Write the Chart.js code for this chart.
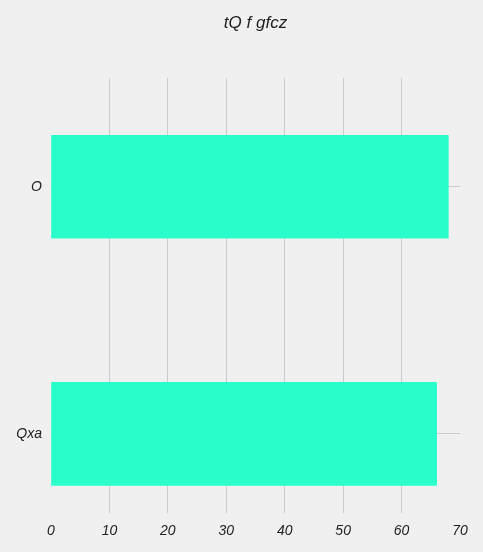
<!DOCTYPE html>
<html>
<head>
    <title>tQ f gfcz</title>
    <script src="https://cdn.jsdelivr.net/npm/chart.js"></script>
    <style>
        body { margin: 0; background: #f0f0f0; }
    </style>
</head>
<body>
    <canvas id="barChart" width="483" height="552"></canvas>

    <script>
        // Chart data
        const chartTitle = 'tQ f gfcz';
        const categories = ['O', 'Qxa'];
        const values = [68, 66];
        const xTicks = [0, 10, 20, 30, 40, 50, 60, 70];

        const gridColor = '#cbcbcb';
        const fontFamily = '"Liberation Sans", Arial, sans-serif';

        // title centred over the plot area rather than the canvas
        const areaTitle = {
            id: 'areaTitle',
            afterDraw(chart) {
                const c = chart.ctx;
                const a = chart.chartArea;
                c.save();
                c.font = 'italic 17px ' + fontFamily;
                c.fillStyle = '#222222';
                c.textAlign = 'center';
                c.textBaseline = 'middle';
                c.fillText(chartTitle, (a.left + a.right) / 2, 23);
                c.restore();
            }
        };

        const ctx = document.getElementById('barChart').getContext('2d');
        new Chart(ctx, {
            type: 'bar',
            data: {
                datasets: [{
                    data: values.map((v, i) => ({ x: v, y: i })),
                    backgroundColor: '#2affcc',
                    borderWidth: 0,
                    barThickness: 103
                }]
            },
            plugins: [areaTitle],
            options: {
                indexAxis: 'y',
                responsive: false,
                animation: false,
                layout: { padding: { top: 78, right: 23, left: 0, bottom: 0 } },
                plugins: {
                    legend: { display: false },
                    tooltip: { enabled: false },
                    title: { display: false }
                },
                scales: {
                    x: {
                        type: 'linear',
                        min: 0,
                        max: 70,
                        afterBuildTicks: (scale) => {
                            scale.ticks = xTicks.map(v => ({ value: v }));
                        },
                        afterFit: (scale) => { scale.height = 39; },
                        border: { display: false },
                        grid: {
                            drawTicks: false,
                            lineWidth: 1,
                            color: (c) => (c.tick && (c.tick.value === 0 || c.tick.value === 70)) ? 'rgba(0,0,0,0)' : gridColor
                        },
                        ticks: {
                            color: '#222222',
                            padding: 10,
                            font: { family: fontFamily, size: 14, style: 'italic' }
                        }
                    },
                    y: {
                        type: 'linear',
                        reverse: true,
                        offset: false,
                        min: -0.44,
                        max: 1.32,
                        afterBuildTicks: (scale) => {
                            scale.ticks = categories.map((c, i) => ({ value: i }));
                        },
                        afterFit: (scale) => { scale.width = 51; },
                        border: { display: false },
                        grid: {
                            offset: false,
                            drawTicks: false,
                            color: gridColor,
                            lineWidth: 1
                        },
                        ticks: {
                            color: '#222222',
                            padding: 9,
                            font: { family: fontFamily, size: 14, style: 'italic' },
                            callback: (v) => categories[v] !== undefined ? categories[v] : ''
                        }
                    }
                }
            }
        });
    </script>
</body>
</html>
